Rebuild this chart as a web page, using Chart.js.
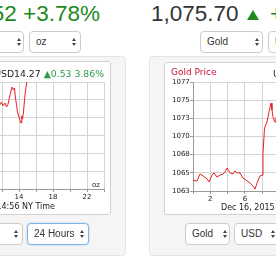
<!DOCTYPE html>
<html><head><meta charset="utf-8">
<script src="https://cdn.jsdelivr.net/npm/chart.js@4/dist/chart.umd.min.js"></script>
<style>
html,body{margin:0;padding:0;width:276px;height:260px;overflow:hidden;background:#fff;font-family:"Liberation Sans",Arial,sans-serif}
body{position:relative}
.abs{position:absolute;white-space:nowrap}
.panel{position:absolute;background:#f5f5f5;border:1px solid #e4e4e4;border-radius:4px;box-sizing:border-box}
.box{position:absolute;background:#fff;border:1px solid #d2d2d2;border-radius:3px;box-sizing:border-box}
.sel{position:absolute;background:#fff;border:1px solid #ccc;border-radius:4px;height:22px;font-size:10px;color:#333;line-height:20px;box-sizing:border-box;padding-left:6px;white-space:nowrap}
.sel.focus{border-color:#7fb2e6;box-shadow:0 0 2px rgba(102,175,233,.6)}
.ar{position:absolute;top:6px;width:5px;height:9px}
.ar:before,.ar:after{content:"";position:absolute;left:0;width:0;height:0;border-left:2.5px solid transparent;border-right:2.5px solid transparent}
.ar:before{top:0;border-bottom:3px solid #444}
.ar:after{top:5px;border-top:3px solid #444}
.ct{font-family:"DejaVu Sans",Verdana,sans-serif;color:#222}
canvas{position:absolute}
</style></head>
<body>
<!-- headers -->
<div class="abs" style="right:176px;top:1px;font-size:22.5px;color:#1e8a1e">+0.52 +3.78%</div>
<div class="abs" style="left:151px;top:1px;font-size:22.5px;color:#333">1,075.70</div>
<div class="abs" style="left:247px;top:10px;width:0;height:0;border-left:6.5px solid transparent;border-right:6.5px solid transparent;border-bottom:10px solid #1e8a1e"></div>
<div class="abs" style="left:270px;top:1px;font-size:22.5px;color:#1e8a1e">+0.53</div>

<!-- top selects -->
<div class="sel" style="left:-40px;top:31px;width:64px">oz<span class="ar" style="left:56px"></span></div>
<div class="sel" style="left:29px;top:31px;width:52px">oz<span class="ar" style="left:42px"></span></div>
<div class="sel" style="left:200px;top:31px;width:63px">Gold<span class="ar" style="left:54px"></span></div>
<div class="sel" style="left:268px;top:31px;width:50px">USD<span class="ar" style="left:40px"></span></div>

<!-- panels -->
<div class="panel" style="left:-30px;top:56px;width:156px;height:200px"></div>
<div class="panel" style="left:149px;top:56px;width:160px;height:200px"></div>
<div class="box" style="left:-30px;top:61px;width:141px;height:154px"></div>
<div class="box" style="left:164px;top:62px;width:140px;height:153px"></div>

<canvas id="silver" width="251" height="150" style="left:-140px;top:62px"></canvas>
<canvas id="gold" width="250" height="150" style="left:164px;top:62px"></canvas>

<!-- chart texts -->
<div class="abs ct" style="right:172px;top:68px;font-size:9.3px">USD14.27 <span style="color:#2e9a4e">&#9650;0.53 3.86%</span></div>
<div class="abs ct" style="left:92px;top:181px;font-size:7px">oz</div>
<div class="abs ct" style="right:221px;top:202px;font-size:8px">Dec 16, 2015 14:56 NY Time</div>
<div class="abs ct" style="left:171px;top:67px;font-size:9px;color:#d0103a">Gold Price</div>
<div class="abs ct" style="left:273px;top:68px;font-size:9.3px">USD1,075.70</div>
<div class="abs ct" style="left:221px;top:203px;font-size:8px">Dec 16, 2015 14:56 NY Time</div>

<!-- bottom selects -->
<div class="sel" style="left:-40px;top:223px;width:63px">oz<span class="ar" style="left:53px"></span></div>
<div class="sel focus" style="left:27px;top:223px;width:62px">24 Hours<span class="ar" style="left:52px"></span></div>
<div class="sel" style="left:185px;top:223px;width:45px">Gold<span class="ar" style="left:37px"></span></div>
<div class="sel" style="left:234px;top:223px;width:60px">USD<span class="ar" style="left:36px"></span></div>

<script>
// ---- data ----
const hourTicks = [0,2,4,6,8,10,12,14,16,18,20,22,24];
const hourLabels = ['','2','','6','','10','','14','','18','','22',''];

const silverHours  = [11.76,11.94,12.12,12.35,12.53,12.71,12.94,13.18,13.35,13.47,13.59,13.71,13.82,14.00,14.12,14.24,14.32,14.41,14.53,14.65,14.76,14.94,15.10];
const silverPrices = [13.736,13.744,13.733,13.741,13.730,13.738,13.764,13.786,13.778,13.783,13.755,13.736,13.716,13.702,13.691,13.685,13.705,13.696,13.716,13.750,13.775,13.803,13.900];
const silverYTicks = [13.50,13.55,13.60,13.65,13.70,13.75,13.80];

const goldHours  = [0,0.46,0.81,1.16,1.62,1.85,2.20,2.43,2.77,3.12,3.47,3.70,3.93,4.28,4.62,4.86,5.09,5.43,5.78,6.13,6.59,6.94,7.17,7.40,7.75,7.98,8.09,8.27,8.55,8.79,9.02,9.13,9.25,9.48,9.59,9.71];
const goldPrices = [1064.45,1064.3,1065.25,1065.0,1064.6,1064.2,1065.1,1065.4,1064.85,1065.1,1065.25,1065.5,1066.05,1065.4,1065.25,1065.65,1065.4,1065.4,1064.7,1064.45,1064.05,1063.65,1063.25,1064.05,1065.0,1065.1,1068.0,1071.3,1072.1,1073.45,1074.6,1073.7,1072.8,1072.1,1072.65,1073.0];
const goldYTicks  = [1063,1065.4,1067.8,1070.2,1072.6,1075.0,1077.4];
const goldYLabels = ['1063','1065','1068','1070','1073','1075','1077'];

// ---- charts ----
const tickFont = {family:'DejaVu Sans', size:7};
function makeChart(id, hours, prices, yTicks, yLabels, yWidth, xHeight, padding){
  return new Chart(document.getElementById(id), {
    type:'line',
    data:{datasets:[{data:hours.map((h,i)=>({x:h,y:prices[i]})),borderColor:'#e3211f',borderWidth:1,pointRadius:0,tension:0,fill:false}]},
    options:{
      responsive:false, animation:false, devicePixelRatio:1,
      layout:{padding:padding},
      plugins:{legend:{display:false},tooltip:{enabled:false}},
      scales:{
        x:{type:'linear',min:0,max:24,
          afterBuildTicks:s=>{s.ticks=hourTicks.map(v=>({value:v}));},
          afterFit:s=>{s.height=xHeight;},
          ticks:{autoSkip:false,maxRotation:0,padding:1,color:'#222',font:tickFont,callback:(v,i)=>hourLabels[i]},
          grid:{color:'#d4d4d4',tickLength:3,tickColor:'#9a9a9a'},
          border:{color:'#9a9a9a'}},
        y:{min:yTicks[0],max:yTicks[yTicks.length-1],
          afterBuildTicks:s=>{s.ticks=yTicks.map(v=>({value:v}));},
          afterFit:s=>{s.width=yWidth;},
          ticks:{crossAlign:'far',padding:2,color:'#222',font:tickFont,callback:(v,i)=>yLabels[i]},
          grid:{color:'#d4d4d4',tickLength:3,tickColor:'#9a9a9a'},
          border:{color:'#9a9a9a'}}
      }
    }
  });
}
makeChart('silver', silverHours, silverPrices, silverYTicks, silverYTicks.map(v=>v.toFixed(2)), 40, 23, {top:20,right:7,left:0,bottom:0});
makeChart('gold', goldHours, goldPrices, goldYTicks, goldYLabels, 21, 21, {top:20,right:13.4,left:8,bottom:0});
</script>
</body></html>
